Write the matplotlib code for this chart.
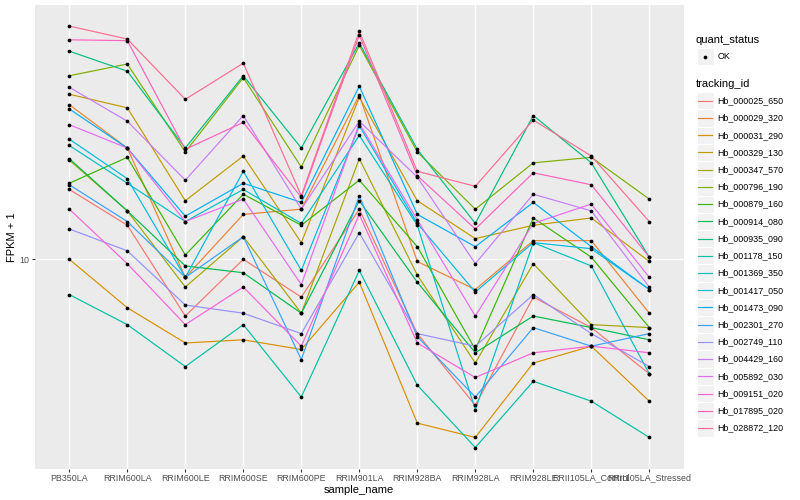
import numpy as np
import matplotlib
matplotlib.use('Agg')
from matplotlib import pyplot as plt
from matplotlib.patches import Rectangle
from matplotlib.ticker import NullLocator

plt.rcParams['font.family'] = ['Liberation Sans', 'DejaVu Sans']

# muestras (eje x)
samples = ['PB350LA', 'RRIM600LA', 'RRIM600LE', 'RRIM600SE', 'RRIM600PE', 'RRIM901LA',
           'RRIM928BA', 'RRIM928LA', 'RRIM928LE', 'RRII105LA_Control', 'RRII105LA_Stressed']

# FPKM + 1 por gen
hb_000025_650 = [13.8, 11.7, 7.7, 10.0, 8.4, 12.6, 7.1, 5.1, 8.4, 7.3, 5.9]
hb_000029_320 = [20.4, 16.7, 9.2, 12.3, 12.6, 21.3, 9.9, 8.7, 10.9, 10.9, 7.8]
hb_000031_290 = [10.0, 8.0, 6.8, 6.9, 6.6, 9.0, 4.7, 4.4, 6.2, 6.7, 5.2]
hb_000329_130 = [21.4, 20.1, 13.1, 16.1, 10.8, 21.1, 13.1, 11.0, 11.7, 12.1, 9.9]
hb_000347_570 = [15.8, 12.5, 8.8, 11.1, 7.8, 15.9, 9.3, 6.2, 9.8, 7.4, 7.3]
hb_000796_190 = [23.3, 24.6, 16.4, 23.1, 15.3, 26.8, 16.4, 12.6, 15.6, 16.0, 13.2]
hb_000879_160 = [14.2, 16.0, 10.2, 13.5, 11.7, 14.4, 10.6, 6.6, 12.1, 10.1, 7.3]
hb_000914_080 = [15.9, 12.5, 9.7, 9.4, 7.8, 13.1, 9.0, 6.5, 7.7, 7.3, 6.9]
hb_000935_090 = [26.1, 23.8, 16.7, 23.3, 16.7, 27.1, 16.6, 11.8, 19.4, 15.6, 10.1]
hb_001178_150 = [8.5, 7.4, 6.1, 7.4, 5.3, 9.5, 5.6, 4.2, 5.7, 5.2, 4.4]
hb_001369_350 = [16.9, 14.2, 11.9, 13.8, 11.8, 17.7, 11.7, 5.0, 10.8, 9.7, 5.9]
hb_001417_050 = [17.4, 14.5, 9.2, 15.0, 9.5, 18.5, 11.8, 8.6, 10.8, 10.5, 8.7]
hb_001473_090 = [20.0, 16.7, 12.2, 14.2, 13.0, 22.2, 12.3, 10.6, 13.0, 10.6, 8.7]
hb_002301_270 = [14.1, 11.9, 9.2, 11.1, 6.3, 13.4, 7.0, 5.3, 7.3, 6.7, 7.1]
hb_002749_110 = [11.5, 10.4, 8.1, 7.8, 7.1, 11.3, 7.1, 6.7, 8.5, 7.1, 6.1]
hb_004429_160 = [22.1, 18.9, 14.4, 19.4, 12.6, 18.9, 14.6, 9.8, 13.5, 12.5, 8.8]
hb_005892_030 = [18.6, 16.7, 11.9, 13.2, 8.9, 18.7, 12.0, 7.7, 11.8, 12.9, 9.2]
hb_009151_020 = [12.6, 9.8, 7.4, 8.8, 6.7, 12.3, 6.8, 5.8, 6.5, 6.7, 6.5]
hb_017895_020 = [27.5, 27.4, 16.6, 18.8, 13.3, 28.1, 14.7, 11.5, 14.9, 14.1, 10.1]
hb_028872_120 = [29.3, 27.6, 20.9, 24.7, 13.4, 28.6, 15.0, 14.0, 19.0, 16.1, 11.9]

tracking_ids = ['Hb_000025_650', 'Hb_000029_320', 'Hb_000031_290', 'Hb_000329_130',
                'Hb_000347_570', 'Hb_000796_190', 'Hb_000879_160', 'Hb_000914_080',
                'Hb_000935_090', 'Hb_001178_150', 'Hb_001369_350', 'Hb_001417_050',
                'Hb_001473_090', 'Hb_002301_270', 'Hb_002749_110', 'Hb_004429_160',
                'Hb_005892_030', 'Hb_009151_020', 'Hb_017895_020', 'Hb_028872_120']
series = [hb_000025_650, hb_000029_320, hb_000031_290, hb_000329_130, hb_000347_570,
          hb_000796_190, hb_000879_160, hb_000914_080, hb_000935_090, hb_001178_150,
          hb_001369_350, hb_001417_050, hb_001473_090, hb_002301_270, hb_002749_110,
          hb_004429_160, hb_005892_030, hb_009151_020, hb_017895_020, hb_028872_120]

# paleta hue de ggplot para 20 niveles
colores = ['#F8766D', '#EA8331', '#D89000', '#C09B00', '#A3A500', '#7CAE00', '#39B600',
           '#00BB4E', '#00BF7D', '#00C1A3', '#00BFC4', '#00BAE0', '#00B0F6', '#35A2FF',
           '#9590FF', '#C77CFF', '#E76BF3', '#FA62DB', '#FF62BC', '#FF6C91']

W, H = 800, 500
fig = plt.figure(figsize=(W / 100, H / 100), dpi=100)
pl, pr, pt, pb = 34.5, 684.1, 5.0, 468.6  # panel en pixeles
ax = fig.add_axes([pl / W, 1 - pb / H, (pr - pl) / W, (pb - pt) / H])
ax.set_facecolor('#EBEBEB')

x = np.arange(len(samples))
for vals, col in zip(series, colores):
    ax.plot(x, vals, color=col, lw=0.85, zorder=2, solid_capstyle='butt')
for vals in series:
    ax.plot(x, vals, 'o', color='black', ms=2.7, mew=0, zorder=3)

ax.set_yscale('log')
todos = np.log10(np.concatenate([np.array(s) for s in series]))
lo, hi = todos.min(), todos.max()
pad = 0.05 * (hi - lo)
ax.set_ylim(10 ** (lo - pad), 10 ** (hi + pad))
ax.set_xlim(-0.6, len(samples) - 0.4)

ax.set_yticks([10])
ax.set_yticklabels(['10'])
ax.yaxis.set_minor_locator(NullLocator())
ax.set_xticks(x)
ax.set_xticklabels(samples)

ax.grid(True, color='white', lw=1.0)
ax.set_axisbelow(True)
for s in ax.spines.values():
    s.set_visible(False)
ax.tick_params(axis='both', length=2.0, width=0.8, color='#333333',
               labelsize=6.4, labelcolor='#4D4D4D', pad=1.6)

ax.set_xlabel('sample_name', fontsize=8, labelpad=2)
ax.set_ylabel('FPKM + 1', fontsize=8, labelpad=2)

# leyendas a la derecha, en pixeles
lg = fig.add_axes([0, 0, 1, 1], zorder=5)
lg.set_xlim(0, W)
lg.set_ylim(H, 0)
lg.axis('off')
lg.patch.set_alpha(0)

kx, ks = 696.5, 17.22
lg.text(kx - 0.5, 40, 'quant_status', fontsize=8, va='center', ha='left')
lg.add_patch(Rectangle((kx, 56.5 - ks / 2), ks, ks, facecolor='#F2F2F2', edgecolor='white', lw=0.8))
lg.plot([kx + ks / 2], [56.5], 'o', color='black', ms=2.7, mew=0)
lg.text(kx + ks + 4, 56.5, 'OK', fontsize=6.4, va='center', ha='left')

lg.text(kx - 0.5, 84, 'tracking_id', fontsize=8, va='center', ha='left')
for i, (tid, col) in enumerate(zip(tracking_ids, colores)):
    yc = 100.8 + ks * i
    lg.add_patch(Rectangle((kx, yc - ks / 2), ks, ks, facecolor='#F2F2F2', edgecolor='white', lw=0.8))
    lg.plot([kx + 1.7, kx + ks - 1.7], [yc, yc], color=col, lw=0.85)
    lg.text(kx + ks + 4, yc, tid, fontsize=6.4, va='center', ha='left')

fig.savefig('out.png', dpi=100)
